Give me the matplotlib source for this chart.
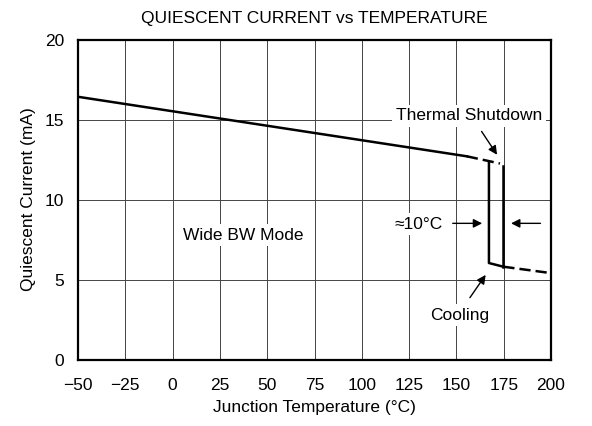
import numpy as np
import matplotlib.pyplot as plt

plt.rcParams['font.family'] = ['Liberation Sans', 'DejaVu Sans']

# heating curve (mA vs junction temp)
solid_t = [-50, 155.5]
solid_i = [16.42, 12.7]
dash_t = [155.5, 173]
dash_i = [12.7, 12.25]
# shutdown / cooling hysteresis
cool_t = [167.2, 167.2, 174.8]
cool_i = [12.38, 6.03, 5.8]
shut_t = [174.8, 174.8]
shut_i = [12.08, 5.8]
tail_t = [174.8, 200]
tail_i = [5.8, 5.4]

xticks = [-50, -25, 0, 25, 50, 75, 100, 125, 150, 175, 200]
yticks = [0, 5, 10, 15, 20]

fs = 12.5

fig = plt.figure(figsize=(5.92, 4.26), dpi=100)
ax = fig.add_axes([78/592, 1 - 359.5/426, 473/592, 320/426])

ax.set_xlim(-50, 200)
ax.set_ylim(0, 20)
ax.set_xticks(xticks)
ax.set_yticks(yticks)
ax.tick_params(length=0, labelsize=fs)
ax.tick_params(axis='x', pad=13)
ax.tick_params(axis='y', pad=10)
ax.grid(True, color='#444444', lw=0.7)
ax.set_axisbelow(True)
for s in ax.spines.values():
    s.set_linewidth(1.6)

lw = 1.8
dsh = (4.5, 2)
ax.plot(solid_t, solid_i, color='black', lw=lw)
ax.plot(dash_t, dash_i, color='black', lw=lw, dashes=dsh)
ax.plot(cool_t, cool_i, color='black', lw=lw)
ax.plot(shut_t, shut_i, color='black', lw=lw)
ax.plot(tail_t, tail_i, color='black', lw=lw, dashes=dsh)

arw = dict(arrowstyle='-|>', color='black', lw=1.0, mutation_scale=13)
box = dict(boxstyle='square,pad=0.2', facecolor='white', edgecolor='none')

ax.text(156.7, 15.24, 'Thermal Shutdown', ha='center', va='center', fontsize=fs, bbox=box)
ax.annotate('', xy=(172.3, 12.65), xytext=(162.5, 14.4), arrowprops=arw)

ax.text(130.2, 8.45, '≈10°C', ha='center', va='center', fontsize=fs, bbox=box)
ax.annotate('', xy=(165.1, 8.51), xytext=(146.6, 8.51), arrowprops=arw)
ax.annotate('', xy=(177.4, 8.51), xytext=(195.9, 8.51), arrowprops=arw)

ax.text(151.9, 2.78, 'Cooling', ha='center', va='center', fontsize=fs, bbox=box)
ax.annotate('', xy=(166.3, 5.43), xytext=(156.3, 3.72), arrowprops=arw)

ax.text(37.2, 7.78, 'Wide BW Mode', ha='center', va='center', fontsize=fs, bbox=box)

ax.set_title('QUIESCENT CURRENT vs TEMPERATURE', fontsize=fs, pad=12)
ax.set_xlabel('Junction Temperature (°C)', fontsize=fs, labelpad=5.5)
ax.set_ylabel('Quiescent Current (mA)', fontsize=fs, labelpad=6.5)

fig.savefig('out.png', dpi=100)
